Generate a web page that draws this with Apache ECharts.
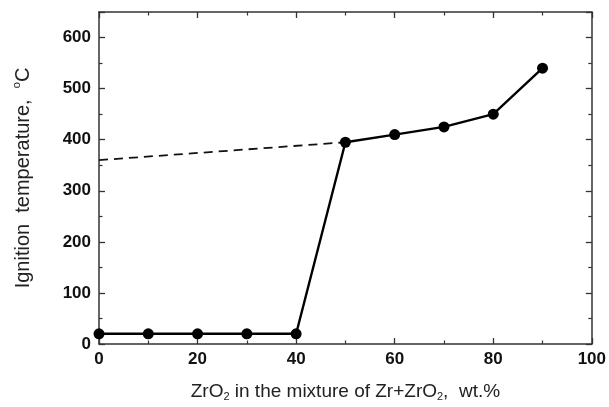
<!DOCTYPE html>
<html><head><meta charset="utf-8">
<script src="https://cdn.jsdelivr.net/npm/echarts@6/dist/echarts.min.js"></script>
<style>html,body{margin:0;padding:0;background:#fff}#c{width:609px;height:407px}</style>
</head><body><div id="c"></div>
<script>
var xValues = [0, 10, 20, 30, 40, 50, 60, 70, 80, 90];
var tempValues = [20, 20, 20, 20, 20, 395, 410, 425, 450, 540];
var dashedX = [0, 50];
var dashedY = [360, 395];

var solidData = xValues.map(function (x, i) { return [x, tempValues[i]]; });
var dashData = dashedX.map(function (x, i) { return [x, dashedY[i]]; });

var axisCol = '#333';
var fontFam = 'Liberation Sans, Arial, sans-serif';
var chart = echarts.init(document.getElementById('c'));

function frameAxis(extra) {
  var base = {
    type: 'value',
    axisLine: { show: true, onZero: false, lineStyle: { color: axisCol, width: 1.5 } },
    axisTick: { show: true, inside: true, length: 6, lineStyle: { color: axisCol, width: 1.3 } },
    minorTick: { show: true, splitNumber: 2, length: 3.5, lineStyle: { color: axisCol, width: 1.2 } },
    splitLine: { show: false },
    minorSplitLine: { show: false }
  };
  for (var k in extra) base[k] = extra[k];
  return base;
}

chart.setOption({
  animation: false,
  grid: { left: 99, right: 17, top: 12, bottom: 58 },
  xAxis: [frameAxis({
    min: 0, max: 100, interval: 20, position: 'bottom',
    axisLabel: { color: '#111', fontFamily: fontFam, fontWeight: 'bold', fontSize: 17, margin: 7 },
    name: '{t|ZrO}{s|2}{t| in the mixture of Zr+ZrO}{s|2}{t|,  wt.%}',
    nameLocation: 'middle', nameGap: 38,
    nameTextStyle: { rich: {
      t: { fontFamily: fontFam, fontSize: 19, color: '#222', lineHeight: 20, verticalAlign: 'top' },
      s: { fontFamily: fontFam, fontSize: 11, color: '#222', lineHeight: 20, verticalAlign: 'bottom', padding: [9, 0, 0, 0] }
    } }
  }), frameAxis({
    min: 0, max: 100, interval: 20, position: 'top',
    axisLabel: { show: false }
  })],
  yAxis: [frameAxis({
    min: 0, max: 650, interval: 100, position: 'left',
    axisLabel: { color: '#111', fontFamily: fontFam, fontWeight: 'bold', fontSize: 17, margin: 8,
      formatter: function (v) { return v <= 600 ? String(v) : ''; } },
    name: '{t|Ignition  temperature,  }{p|o}{t|C}',
    nameLocation: 'middle', nameGap: 66,
    nameTextStyle: { rich: {
      t: { fontFamily: fontFam, fontSize: 20, color: '#222', lineHeight: 22, verticalAlign: 'bottom' },
      p: { fontFamily: fontFam, fontSize: 11, color: '#222', lineHeight: 22, verticalAlign: 'top' }
    } }
  }), frameAxis({
    min: 0, max: 650, interval: 100, position: 'right',
    axisLabel: { show: false }
  })],
  series: [{
    type: 'line', data: dashData, symbol: 'none', z: 1,
    lineStyle: { color: '#111', width: 1.8, type: [9, 6] }
  }, {
    type: 'line', data: solidData, symbol: 'circle', symbolSize: 11, z: 2,
    itemStyle: { color: '#000' },
    lineStyle: { color: '#000', width: 2.4 }
  }]
});
</script></body></html>
